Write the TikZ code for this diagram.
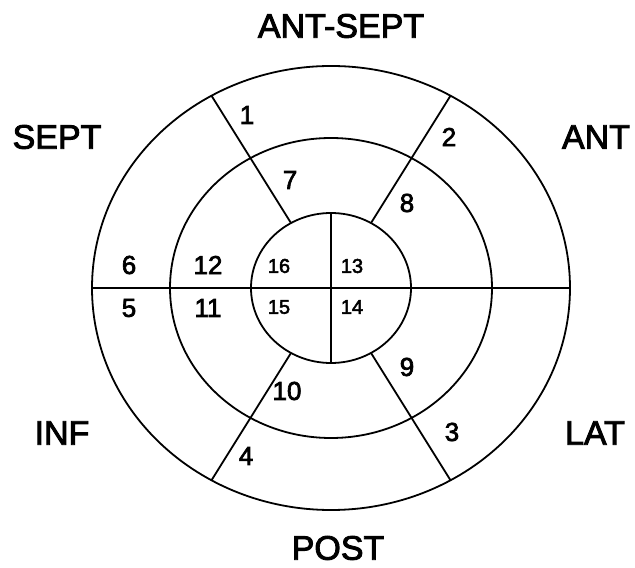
\documentclass[tikz,border=0pt]{standalone}
\usepackage{fontspec}
\setmainfont{Liberation Sans}
\newfontfamily\labelfont{Liberation Sans}[FakeBold=2.6]
\usetikzlibrary{calc}
\begin{document}
\begin{tikzpicture}[x=1pt,y=1pt,
  wall/.style={line width=1.8pt, black},
  region/.style={font=\labelfont\fontsize{34}{36}\selectfont, inner sep=0pt},
  seg/.style={font=\labelfont\fontsize{26}{28}\selectfont, inner sep=0pt},
  apex/.style={font=\labelfont\fontsize{20}{22}\selectfont, inner sep=0pt}]
  \useasboundingbox (0,0) rectangle (635,568);
  \coordinate (c) at (331,280);

  % three concentric rings
  \draw[wall] (c) ellipse [x radius=239, y radius=222];
  \draw[wall] (c) ellipse [x radius=161, y radius=150];
  \draw[wall] (c) ellipse [x radius=80, y radius=75];

  % end points of the dividing lines
  \coordinate (oL) at ($(c)+(-239,0)$);
  \coordinate (oR) at ($(c)+(239,0)$);
  \coordinate (iT) at ($(c)+(0,75)$);
  \coordinate (iB) at ($(c)+(0,-75)$);
  \foreach \a/\n in {60/ur,120/ul,240/ll,300/lr}{
    \coordinate (\n-in)  at ($(c)+(\a:80pt and 75pt)$);
    \coordinate (\n-out) at ($(c)+(\a:239pt and 222pt)$);
  }

  \draw[wall] (oL) -- (oR);
  \draw[wall] (iT) -- (iB);
  \draw[wall] (ul-in) -- (ul-out);
  \draw[wall] (ur-in) -- (ur-out);
  \draw[wall] (ll-in) -- (ll-out);
  \draw[wall] (lr-in) -- (lr-out);

  % wall names
  \node[region] (antsept) at (341,542) {ANT-SEPT};
  \node[region] (sept)    at (57,431)  {SEPT};
  \node[region] (ant)     at (596,431) {ANT};
  \node[region] (inf)     at (62,135)  {INF};
  \node[region] (lat)     at (595,135) {LAT};
  \node[region] (post)    at (338,20)  {POST};

  % basal and mid segments
  \node[seg] (s1)  at (247,453) {1};
  \node[seg] (s2)  at (449,431) {2};
  \node[seg] (s3)  at (452,136) {3};
  \node[seg] (s4)  at (246,112) {4};
  \node[seg] (s5)  at (129,260) {5};
  \node[seg] (s6)  at (129,303) {6};
  \node[seg] (s7)  at (290,388) {7};
  \node[seg] (s8)  at (407,365) {8};
  \node[seg] (s9)  at (407,201) {9};
  \node[seg] (s10) at (287,177) {10};
  \node[seg] (s11) at (208,260) {11};
  \node[seg] (s12) at (208,303) {12};

  % apical segments
  \node[apex] (s13) at (352,302) {13};
  \node[apex] (s14) at (352,261) {14};
  \node[apex] (s15) at (279,261) {15};
  \node[apex] (s16) at (279,302) {16};
\end{tikzpicture}
\end{document}
